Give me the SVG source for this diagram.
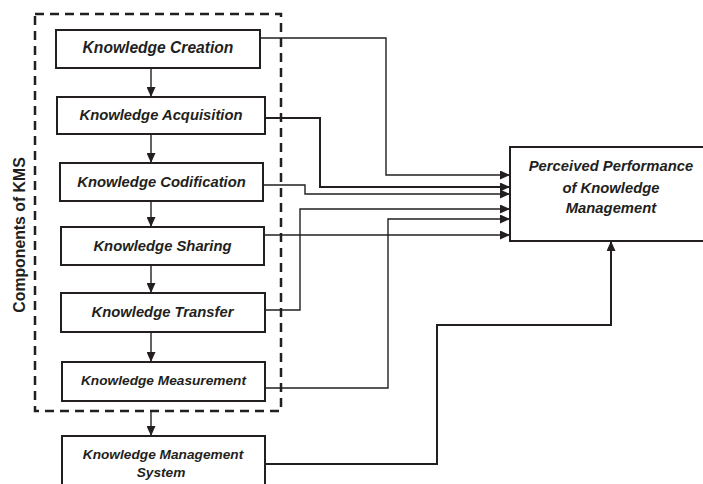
<svg xmlns="http://www.w3.org/2000/svg" width="703" height="484" viewBox="0 0 703 484">
<style>
.box{fill:#fff;stroke:#231f20;stroke-width:2}
.lbl{font-family:"Liberation Sans",Arial,sans-serif;font-weight:bold;font-style:italic;font-size:14.8px;fill:#231f20;text-anchor:middle}
.sm{font-size:13.7px}
.conn{fill:none;stroke:#231f20;stroke-width:1.4}
.thick{stroke-width:2}
.dash{fill:none;stroke:#231f20;stroke-width:2.5;stroke-dasharray:9 6}
.side{font-family:"Liberation Sans",Arial,sans-serif;font-weight:bold;font-size:15.8px;fill:#231f20;text-anchor:middle}
</style>
<defs>
<marker id="ah" markerUnits="userSpaceOnUse" markerWidth="10" markerHeight="9" refX="10" refY="4.5" orient="auto">
<path d="M0,0 L10,4.5 L0,9 z" fill="#231f20"/>
</marker>
</defs>
<rect width="703" height="484" fill="#fff"/>
<g id="kms-group">
<rect class="dash" x="35" y="14" width="246" height="397"/>
<text class="side" transform="translate(25,235) rotate(-90)">Components of KMS</text>
</g>
<g id="connectors">
<path class="conn" d="M151,68 V97" marker-end="url(#ah)"/>
<path class="conn" d="M151,134 V163" marker-end="url(#ah)"/>
<path class="conn" d="M151,201 V227" marker-end="url(#ah)"/>
<path class="conn" d="M151,265 V293" marker-end="url(#ah)"/>
<path class="conn" d="M151,332 V362" marker-end="url(#ah)"/>
<path class="conn" d="M151,411 V436" marker-end="url(#ah)"/>
<path class="conn" d="M260,38 H386 V175 H510" marker-end="url(#ah)"/>
<path class="conn thick" d="M265,118 H320 V187 H510" marker-end="url(#ah)"/>
<path class="conn" d="M263,185 H305 V194 H510" marker-end="url(#ah)"/>
<path class="conn" d="M264,235 H510" marker-end="url(#ah)"/>
<path class="conn" d="M265,310 H300 V209 H510" marker-end="url(#ah)"/>
<path class="conn" d="M265,388 H388 V219 H510" marker-end="url(#ah)"/>
<path class="conn thick" d="M265,464 H437 V325 H611 V241" marker-end="url(#ah)"/>
</g>
<g id="creation">
<rect class="box" x="56" y="30" width="204" height="38"/>
<text class="lbl" x="158" y="53" style="font-size:15.6px">Knowledge Creation</text>
</g>
<g id="acquisition">
<rect class="box" x="57" y="97" width="208" height="37"/>
<text class="lbl" x="161" y="120">Knowledge Acquisition</text>
</g>
<g id="codification">
<rect class="box" x="60" y="163" width="203" height="38"/>
<text class="lbl" x="161.5" y="186.5">Knowledge Codification</text>
</g>
<g id="sharing">
<rect class="box" x="61" y="227" width="203" height="38"/>
<text class="lbl" x="162.5" y="250.5">Knowledge Sharing</text>
</g>
<g id="transfer">
<rect class="box" x="61" y="293" width="204" height="39"/>
<text class="lbl" x="162.5" y="317">Knowledge Transfer</text>
</g>
<g id="measurement">
<rect class="box" x="62" y="362" width="203" height="39"/>
<text class="lbl sm" x="163.5" y="385">Knowledge Measurement</text>
</g>
<g id="kms">
<rect class="box" x="62" y="436" width="203" height="52"/>
<text class="lbl sm" x="163" y="458.5">Knowledge Management</text>
<text class="lbl sm" x="161" y="476.5">System</text>
</g>
<g id="performance">
<rect class="box" x="510" y="147" width="196" height="94"/>
<text class="lbl" x="611" y="171">Perceived Performance</text>
<text class="lbl" x="611" y="192.5">of Knowledge</text>
<text class="lbl" x="611" y="212.5">Management</text>
</g>
</svg>
